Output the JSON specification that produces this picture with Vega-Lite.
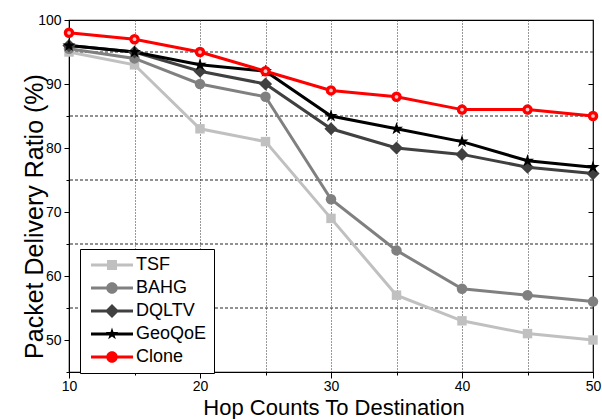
{
  "$schema": "https://vega.github.io/schema/vega-lite/v6.json",
  "width": 524,
  "height": 352,
  "autosize": "none",
  "padding": {"left": 69, "top": 20, "right": 9, "bottom": 47},
  "background": "white",
  "config": {
    "font": "Liberation Sans",
    "view": {"stroke": "black", "strokeWidth": 1.2},
    "axis": {
      "domainColor": "black",
      "tickColor": "black",
      "labelColor": "black",
      "titleColor": "black",
      "labelFont": "Liberation Sans",
      "titleFont": "Liberation Sans",
      "labelFontSize": 14,
      "titleFontSize": 24,
      "titleFontWeight": "normal",
      "labelOverlap": false,
      "labelFlush": false
    }
  },
  "datasets": {
    "pdr": [
      {"hop": 10, "series": "TSF", "pdr": 95},
      {"hop": 15, "series": "TSF", "pdr": 93},
      {"hop": 20, "series": "TSF", "pdr": 83},
      {"hop": 25, "series": "TSF", "pdr": 81},
      {"hop": 30, "series": "TSF", "pdr": 69},
      {"hop": 35, "series": "TSF", "pdr": 57},
      {"hop": 40, "series": "TSF", "pdr": 53},
      {"hop": 45, "series": "TSF", "pdr": 51},
      {"hop": 50, "series": "TSF", "pdr": 50},
      {"hop": 10, "series": "BAHG", "pdr": 95.5},
      {"hop": 15, "series": "BAHG", "pdr": 94},
      {"hop": 20, "series": "BAHG", "pdr": 90},
      {"hop": 25, "series": "BAHG", "pdr": 88},
      {"hop": 30, "series": "BAHG", "pdr": 72},
      {"hop": 35, "series": "BAHG", "pdr": 64},
      {"hop": 40, "series": "BAHG", "pdr": 58},
      {"hop": 45, "series": "BAHG", "pdr": 57},
      {"hop": 50, "series": "BAHG", "pdr": 56},
      {"hop": 10, "series": "DQLTV", "pdr": 96},
      {"hop": 15, "series": "DQLTV", "pdr": 95},
      {"hop": 20, "series": "DQLTV", "pdr": 92},
      {"hop": 25, "series": "DQLTV", "pdr": 90},
      {"hop": 30, "series": "DQLTV", "pdr": 83},
      {"hop": 35, "series": "DQLTV", "pdr": 80},
      {"hop": 40, "series": "DQLTV", "pdr": 79},
      {"hop": 45, "series": "DQLTV", "pdr": 77},
      {"hop": 50, "series": "DQLTV", "pdr": 76},
      {"hop": 10, "series": "GeoQoE", "pdr": 96},
      {"hop": 15, "series": "GeoQoE", "pdr": 95},
      {"hop": 20, "series": "GeoQoE", "pdr": 93},
      {"hop": 25, "series": "GeoQoE", "pdr": 92},
      {"hop": 30, "series": "GeoQoE", "pdr": 85},
      {"hop": 35, "series": "GeoQoE", "pdr": 83},
      {"hop": 40, "series": "GeoQoE", "pdr": 81},
      {"hop": 45, "series": "GeoQoE", "pdr": 78},
      {"hop": 50, "series": "GeoQoE", "pdr": 77},
      {"hop": 10, "series": "Clone", "pdr": 98},
      {"hop": 15, "series": "Clone", "pdr": 97},
      {"hop": 20, "series": "Clone", "pdr": 95},
      {"hop": 25, "series": "Clone", "pdr": 92},
      {"hop": 30, "series": "Clone", "pdr": 89},
      {"hop": 35, "series": "Clone", "pdr": 88},
      {"hop": 40, "series": "Clone", "pdr": 86},
      {"hop": 45, "series": "Clone", "pdr": 86},
      {"hop": 50, "series": "Clone", "pdr": 85}
    ],
    "hgrid": [{"v": 55}, {"v": 65}, {"v": 75}, {"v": 85}, {"v": 95}]
  },
  "resolve": {"axis": {"y": "independent"}},
  "layer": [
    {
      "data": {"name": "hgrid"},
      "mark": {"type": "rule", "color": "#222", "strokeWidth": 1, "strokeDash": [3, 2]},
      "encoding": {
        "y": {
          "field": "v", "type": "quantitative",
          "scale": {"domain": [45, 100], "nice": false, "zero": false},
          "axis": {
            "orient": "right", "values": [60, 70, 80, 90], "labels": false,
            "domain": false, "ticks": true, "tickSize": -5, "grid": false, "title": null
          }
        }
      }
    },
    {
      "data": {"name": "pdr"},
      "mark": {"type": "line", "strokeWidth": 3},
      "encoding": {
        "x": {
          "field": "hop", "type": "quantitative",
          "scale": {"domain": [10, 50], "nice": false, "zero": false},
          "axis": {
            "values": [10, 15, 20, 25, 30, 35, 40, 45, 50],
            "labelExpr": "datum.value % 10 === 0 ? datum.label : ''",
            "tickSize": {"condition": {"test": "datum.value % 10 === 0", "value": 6}, "value": 3},
            "labelPadding": 1,
            "grid": true,
            "gridColor": "#333",
            "gridDash": [1, 2],
            "gridWidth": 1,
            "gridOpacity": {"condition": {"test": "datum.value > 10 && datum.value < 50", "value": 1}, "value": 0},
            "title": "Hop Counts To Destination",
            "titleFontSize": 22,
            "titleX": 264.5,
            "titleY": 42.5,
            "titleAlign": "center",
            "titleBaseline": "alphabetic"
          }
        },
        "y": {
          "field": "pdr", "type": "quantitative",
          "scale": {"domain": [45, 100], "nice": false, "zero": false},
          "axis": {
            "values": [45, 50, 55, 60, 65, 70, 75, 80, 85, 90, 95, 100],
            "labelExpr": "datum.value % 10 === 0 ? datum.label : ''",
            "tickSize": {"condition": {"test": "datum.value % 10 === 0", "value": 5}, "value": 3},
            "labelPadding": 3,
            "grid": false,
            "title": "Packet Delivery Ratio (%)",
            "titleFontSize": 25,
            "titleAngle": -90,
            "titleX": -27,
            "titleY": 196,
            "titleAlign": "center",
            "titleBaseline": "alphabetic"
          }
        },
        "color": {
          "field": "series", "type": "nominal",
          "scale": {"domain": ["TSF", "BAHG", "DQLTV", "GeoQoE", "Clone"], "range": ["#c0c0c0", "#808080", "#404040", "#000000", "#ff0000"]},
          "legend": {
            "orient": "none",
            "legendX": 11,
            "legendY": 229,
            "title": null,
            "strokeColor": "black",
            "fillColor": "white",
            "padding": 7,
            "symbolType": "circle",
            "symbolSize": 100,
            "symbolOffset": 16,
            "labelOffset": 15,
            "labelFontSize": 18,
            "labelFont": "Liberation Sans",
            "labelColor": "black",
            "rowPadding": 5,
            "encode": {
              "symbols": {
                "update": {
                  "shape": {"signal": "datum.value === 'TSF' ? 'M-4.2,-0.3H4.2V0.3H-4.2Z M-1,-1H1V1H-1Z' : datum.value === 'BAHG' ? 'M-4.2,-0.3H4.2V0.3H-4.2Z M-1.15,0A1.15,1.15,0,1,1,1.15,0A1.15,1.15,0,1,1,-1.15,0Z' : datum.value === 'DQLTV' ? 'M-4.2,-0.3H4.2V0.3H-4.2Z M0,-1.4L1.4,0L0,1.4L-1.4,0Z' : datum.value === 'GeoQoE' ? 'M-4.2,-0.3H4.2V0.3H-4.2Z M0,-1.3L0.29,-0.4L1.24,-0.4L0.48,0.16L0.76,1.05L0,0.5L-0.76,1.05L-0.48,0.16L-1.24,-0.4L-0.29,-0.4Z' : 'M-4.2,-0.3H4.2V0.3H-4.2Z M-1.15,0A1.15,1.15,0,1,1,1.15,0A1.15,1.15,0,1,1,-1.15,0Z'"},
                  "fill": {"signal": "datum.value === 'TSF' ? '#c0c0c0' : datum.value === 'BAHG' ? '#808080' : datum.value === 'DQLTV' ? '#404040' : datum.value === 'GeoQoE' ? '#000000' : '#ff0000'"},
                  "strokeWidth": {"value": 0},
                  "opacity": {"value": 1},
                  "fillOpacity": {"value": 1}
                }
              }
            }
          }
        }
      }
    },
    {
      "data": {"name": "pdr"},
      "transform": [{"filter": "datum.series === 'TSF'"}],
      "mark": {"type": "point", "filled": true, "opacity": 1, "size": 110, "shape": "M-0.9,-0.9H0.9V0.9H-0.9Z"},
      "encoding": {
        "x": {"field": "hop", "type": "quantitative"},
        "y": {"field": "pdr", "type": "quantitative", "axis": null},
        "color": {"field": "series", "type": "nominal"}
      }
    },
    {
      "data": {"name": "pdr"},
      "transform": [{"filter": "datum.series === 'BAHG'"}],
      "mark": {"type": "point", "filled": true, "opacity": 1, "size": 110, "shape": "circle"},
      "encoding": {
        "x": {"field": "hop", "type": "quantitative"},
        "y": {"field": "pdr", "type": "quantitative", "axis": null},
        "color": {"field": "series", "type": "nominal"}
      }
    },
    {
      "data": {"name": "pdr"},
      "transform": [{"filter": "datum.series === 'DQLTV'"}],
      "mark": {"type": "point", "filled": true, "opacity": 1, "size": 110, "shape": "M0,-1.25L1.25,0L0,1.25L-1.25,0Z"},
      "encoding": {
        "x": {"field": "hop", "type": "quantitative"},
        "y": {"field": "pdr", "type": "quantitative", "axis": null},
        "color": {"field": "series", "type": "nominal"}
      }
    },
    {
      "data": {"name": "pdr"},
      "transform": [{"filter": "datum.series === 'GeoQoE'"}],
      "mark": {"type": "point", "filled": true, "opacity": 1, "size": 110, "shape": "M0,-1.3L0.29,-0.4L1.24,-0.4L0.48,0.16L0.76,1.05L0,0.5L-0.76,1.05L-0.48,0.16L-1.24,-0.4L-0.29,-0.4Z"},
      "encoding": {
        "x": {"field": "hop", "type": "quantitative"},
        "y": {"field": "pdr", "type": "quantitative", "axis": null},
        "color": {"field": "series", "type": "nominal"}
      }
    },
    {
      "data": {"name": "pdr"},
      "transform": [{"filter": "datum.series === 'Clone'"}],
      "mark": {"type": "point", "filled": true, "opacity": 1, "size": 110, "shape": "circle"},
      "encoding": {
        "x": {"field": "hop", "type": "quantitative"},
        "y": {"field": "pdr", "type": "quantitative", "axis": null},
        "color": {"field": "series", "type": "nominal"}
      }
    },
    {
      "data": {"name": "pdr"},
      "transform": [{"filter": "datum.series === 'Clone'"}],
      "mark": {"type": "point", "filled": true, "shape": "circle", "size": 14, "color": "#ffc8c8", "opacity": 1},
      "encoding": {
        "x": {"field": "hop", "type": "quantitative"},
        "y": {"field": "pdr", "type": "quantitative", "axis": null}
      }
    }
  ]
}
